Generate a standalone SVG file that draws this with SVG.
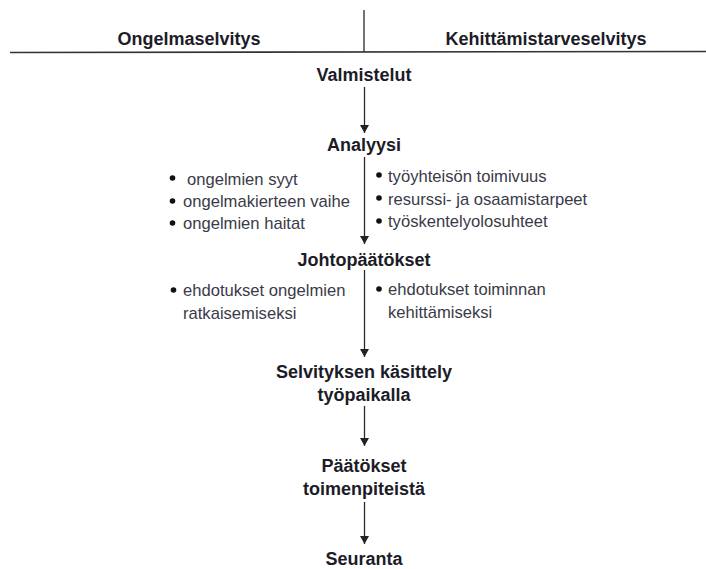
<svg xmlns="http://www.w3.org/2000/svg" width="706" height="569" viewBox="0 0 706 569">
<defs>
<marker id="arr" viewBox="0 0 8 12" refX="8" refY="6" markerWidth="8" markerHeight="12" markerUnits="userSpaceOnUse" orient="auto">
<path d="M0,1.5 L8,6 L0,10.5 Z" fill="#222"/>
</marker>
<style>
.h{font-family:"Liberation Sans",Arial,sans-serif;font-weight:bold;font-size:18px;fill:#1c1c28;text-anchor:middle}
.b{font-family:"Liberation Sans",Arial,sans-serif;font-size:16.6px;fill:#3a3a48}
.ln{stroke:#2a2a2a;stroke-width:1.3;fill:none}
.dot{fill:#111}
</style>
</defs>
<rect width="706" height="569" fill="#fff"/>
<g id="header">
<line class="ln" x1="364" y1="10" x2="364" y2="52"/>
<line x1="10" y1="52.5" x2="706" y2="51.5" stroke="#333" stroke-width="1.6"/>
<text class="h" x="189" y="45">Ongelmaselvitys</text>
<text class="h" x="546" y="45">Kehittämistarveselvitys</text>
</g>
<g id="connectors">
<line class="ln" x1="364.5" y1="87" x2="364.5" y2="133" marker-end="url(#arr)"/>
<line class="ln" x1="364.5" y1="157" x2="364.5" y2="244" marker-end="url(#arr)"/>
<line class="ln" x1="364.5" y1="270" x2="364.5" y2="357" marker-end="url(#arr)"/>
<line class="ln" x1="364.5" y1="406" x2="364.5" y2="446" marker-end="url(#arr)"/>
<line class="ln" x1="364.5" y1="502" x2="364.5" y2="544" marker-end="url(#arr)"/>
</g>
<g id="valmistelut"><text class="h" x="364" y="81" font-size="18.5">Valmistelut</text></g>
<g id="analyysi">
<text class="h" x="364" y="151">Analyysi</text>
<circle class="dot" cx="172.5" cy="178" r="2.8"/>
<text class="b" x="187" y="185">ongelmien syyt</text>
<circle class="dot" cx="172.5" cy="201" r="2.8"/>
<text class="b" x="183" y="207">ongelmakierteen vaihe</text>
<circle class="dot" cx="172.5" cy="223" r="2.8"/>
<text class="b" x="183" y="229">ongelmien haitat</text>
<circle class="dot" cx="379" cy="175" r="2.8"/>
<text class="b" x="388" y="182">työyhteisön toimivuus</text>
<circle class="dot" cx="379" cy="198" r="2.8"/>
<text class="b" x="388" y="205">resurssi- ja osaamistarpeet</text>
<circle class="dot" cx="379" cy="221" r="2.8"/>
<text class="b" x="388" y="227">työskentelyolosuhteet</text>
</g>
<g id="johtopaatokset">
<text class="h" x="364" y="266">Johtopäätökset</text>
<circle class="dot" cx="173.5" cy="290" r="2.8"/>
<text class="b" x="183" y="296">ehdotukset ongelmien</text>
<text class="b" x="183" y="319">ratkaisemiseksi</text>
<circle class="dot" cx="379" cy="289" r="2.8"/>
<text class="b" x="388" y="295">ehdotukset toiminnan</text>
<text class="b" x="388" y="318">kehittämiseksi</text>
</g>
<g id="kasittely">
<text class="h" x="364" y="378">Selvityksen käsittely</text>
<text class="h" x="364" y="401">työpaikalla</text>
</g>
<g id="paatokset">
<text class="h" x="364" y="472">Päätökset</text>
<text class="h" x="364" y="495">toimenpiteistä</text>
</g>
<g id="seuranta"><text class="h" x="364" y="565">Seuranta</text></g>
</svg>
